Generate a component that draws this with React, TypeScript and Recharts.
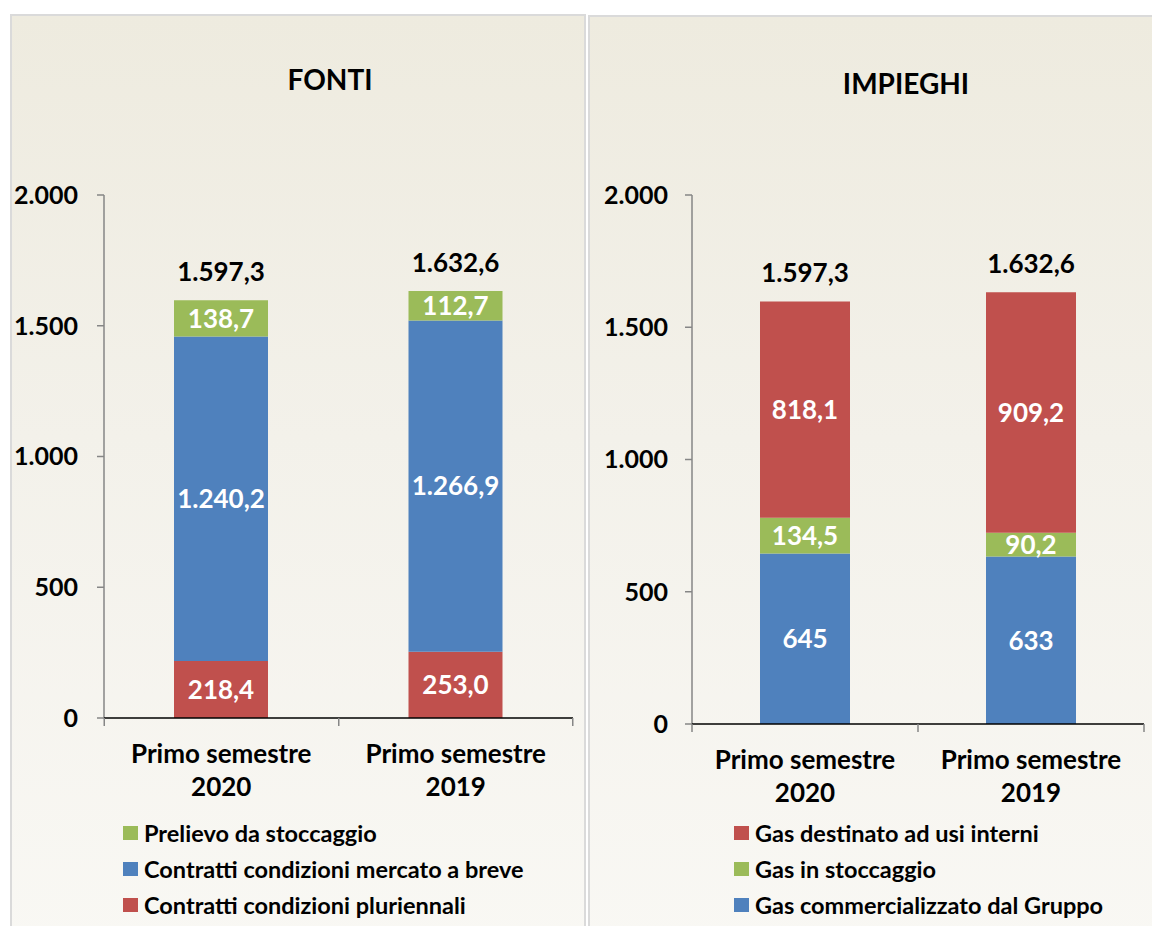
import React from 'react';
import { BarChart, Bar, XAxis, YAxis, LabelList } from 'recharts';

// Gas balance, first half 2020 vs first half 2019 (milioni di mc)
const periods = ['Primo semestre 2020', 'Primo semestre 2019'];
const yTicks = [0, 500, 1000, 1500, 2000];

// FONTI
const fontiPluriennali = [218.4, 253.0];
const fontiBreve = [1240.2, 1266.9];
const fontiStoccaggio = [138.7, 112.7];
const fontiTotali = [1597.3, 1632.6];

// IMPIEGHI
const impieghiGruppo = [645, 633];
const impieghiStoccaggio = [134.5, 90.2];
const impieghiInterni = [818.1, 909.2];
const impieghiTotali = [1597.3, 1632.6];

const RED = '#C0504D';
const BLUE = '#4F81BD';
const GREEN = '#9BBB59';
const FONT = 'Lato, "Open Sans", sans-serif';

// Italian number format: 1597.3 -> "1.597,3"
const fmtIt = (v: number, dec: number) => {
    const [int, frac] = Number(v).toFixed(dec).split('.');
    const grouped = int.replace(/\B(?=(\d{3})+(?!\d))/g, '.');
    return frac ? `${grouped},${frac}` : grouped;
};

const fontiData = periods.map((p, i) => ({
    name: p,
    pluriennali: fontiPluriennali[i],
    breve: fontiBreve[i],
    stoccaggio: fontiStoccaggio[i],
    total: fontiTotali[i],
}));

const impieghiData = periods.map((p, i) => ({
    name: p,
    gruppo: impieghiGruppo[i],
    stoccaggio: impieghiStoccaggio[i],
    interni: impieghiInterni[i],
    total: impieghiTotali[i],
}));

const fontiLegend = [
    { label: 'Prelievo da stoccaggio', color: GREEN },
    { label: 'Contratti condizioni mercato a breve', color: BLUE },
    { label: 'Contratti condizioni pluriennali', color: RED },
];

const impieghiLegend = [
    { label: 'Gas destinato ad usi interni', color: RED },
    { label: 'Gas in stoccaggio', color: GREEN },
    { label: 'Gas commercializzato dal Gruppo', color: BLUE },
];

// two-line category label plus boundary tick marks between categories
const CategoryTick = (props: any) => {
    const { x, y, payload, index, band, count, line2 } = props;
    const words = String(payload.value).split(' ');
    const year = words.pop();
    return (
        <g>
            <line x1={x - band / 2} x2={x - band / 2} y1={y} y2={y + 8} stroke="#868686" strokeWidth={1.5} />
            {index === count - 1 && (
                <line x1={x + band / 2} x2={x + band / 2} y1={y} y2={y + 8} stroke="#868686" strokeWidth={1.5} />
            )}
            <text x={x} y={y + 45} textAnchor="middle" fontFamily={FONT} fontWeight={700} fontSize={26} fill="#000">
                {words.join(' ')}
            </text>
            <text x={x} y={y + line2} textAnchor="middle" fontFamily={FONT} fontWeight={700} fontSize={26} fill="#000">
                {year}
            </text>
        </g>
    );
};

const tickStyle = { fill: '#000', fontSize: 25, fontWeight: 700, fontFamily: FONT };
const insideLabel = { fill: '#fff', fontSize: 26, fontWeight: 700, fontFamily: FONT };
const totalLabel = { fill: '#000', fontSize: 26, fontWeight: 700, fontFamily: FONT };

const Panel = ({ left, top, width }: { left: number; top: number; width: number }) => (
    <div style={{
        position: 'absolute',
        left,
        top,
        width,
        height: 940,
        boxSizing: 'border-box',
        border: '2px solid #DADADA',
        background: 'linear-gradient(180deg, #EEEBDF 0%, #F3F1EA 45%, #F9F8F4 100%)',
    }} />
);

const Legend = ({ items, left }: { items: { label: string; color: string }[]; left: number }) => (
    <div style={{ position: 'absolute', left, top: 815, fontFamily: FONT, fontWeight: 700, fontSize: 23.5 }}>
        {items.map(it => (
            <div key={it.label} style={{ display: 'flex', alignItems: 'center', height: 36, whiteSpace: 'nowrap' }}>
                <span style={{ width: 15, height: 14, background: it.color, marginRight: 6, display: 'inline-block' }} />
                <span>{it.label}</span>
            </div>
        ))}
    </div>
);

const Title = ({ text, cx, cy }: { text: string; cx: number; cy: number }) => (
    <div style={{
        position: 'absolute',
        left: cx - 150,
        top: cy - 17,
        width: 300,
        height: 34,
        lineHeight: '34px',
        textAlign: 'center',
        fontFamily: FONT,
        fontWeight: 700,
        fontSize: 28,
        color: '#000',
    }}>{text}</div>
);

export default function App() {
    return (
        <div style={{ position: 'absolute', left: 0, top: 0, width: 1152, height: 926, overflow: 'hidden', background: '#fff' }}>
            <Panel left={10} top={14} width={576} />
            <Panel left={588} top={15} width={600} />

            <Title text="FONTI" cx={330} cy={79} />
            <Title text="IMPIEGHI" cx={906} cy={83} />

            {/* FONTI */}
            <div style={{ position: 'absolute', left: 0, top: 0 }}>
                <BarChart width={590} height={926} data={fontiData} margin={{ top: 195, right: 17, bottom: 0, left: 0 }}>
                    <YAxis
                        width={104}
                        domain={[0, 2000]}
                        ticks={yTicks}
                        interval={0}
                        tick={tickStyle}
                        tickFormatter={(v: number) => fmtIt(v, 0)}
                        tickSize={7}
                        tickMargin={19}
                        axisLine={{ stroke: '#868686', strokeWidth: 1.5 }}
                        tickLine={{ stroke: '#868686', strokeWidth: 1.5 }}
                    />
                    <XAxis
                        dataKey="name"
                        height={208}
                        interval={0}
                        tickSize={0}
                        tickMargin={0}
                        tickLine={false}
                        axisLine={{ stroke: '#000', strokeWidth: 1.5 }}
                        tick={(p: any) => <CategoryTick {...p} band={234} count={periods.length} line2={78} />}
                    />
                    <Bar dataKey="pluriennali" stackId="a" fill={RED} barSize={94} isAnimationActive={false}>
                        <LabelList dataKey="pluriennali" position="center" style={insideLabel} formatter={(v: any) => fmtIt(v, 1)} />
                    </Bar>
                    <Bar dataKey="breve" stackId="a" fill={BLUE} barSize={94} isAnimationActive={false}>
                        <LabelList dataKey="breve" position="center" style={insideLabel} formatter={(v: any) => fmtIt(v, 1)} />
                    </Bar>
                    <Bar dataKey="stoccaggio" stackId="a" fill={GREEN} barSize={94} isAnimationActive={false}>
                        <LabelList dataKey="stoccaggio" position="center" style={insideLabel} formatter={(v: any) => fmtIt(v, 1)} />
                        <LabelList dataKey="total" position="top" offset={19} style={totalLabel} formatter={(v: any) => fmtIt(v, 1)} />
                    </Bar>
                </BarChart>
            </div>

            {/* IMPIEGHI */}
            <div style={{ position: 'absolute', left: 590, top: 0 }}>
                <BarChart width={562} height={926} data={impieghiData} margin={{ top: 195, right: 8, bottom: 0, left: 0 }}>
                    <YAxis
                        width={102}
                        domain={[0, 2000]}
                        ticks={yTicks}
                        interval={0}
                        tick={tickStyle}
                        tickFormatter={(v: number) => fmtIt(v, 0)}
                        tickSize={7}
                        tickMargin={17}
                        axisLine={{ stroke: '#868686', strokeWidth: 1.5 }}
                        tickLine={{ stroke: '#868686', strokeWidth: 1.5 }}
                    />
                    <XAxis
                        dataKey="name"
                        height={202}
                        interval={0}
                        tickSize={0}
                        tickMargin={0}
                        tickLine={false}
                        axisLine={{ stroke: '#000', strokeWidth: 1.5 }}
                        tick={(p: any) => <CategoryTick {...p} band={226} count={periods.length} line2={78} />}
                    />
                    <Bar dataKey="gruppo" stackId="a" fill={BLUE} barSize={90} isAnimationActive={false}>
                        <LabelList dataKey="gruppo" position="center" style={insideLabel} formatter={(v: any) => fmtIt(v, 0)} />
                    </Bar>
                    <Bar dataKey="stoccaggio" stackId="a" fill={GREEN} barSize={90} isAnimationActive={false}>
                        <LabelList dataKey="stoccaggio" position="center" style={insideLabel} formatter={(v: any) => fmtIt(v, 1)} />
                    </Bar>
                    <Bar dataKey="interni" stackId="a" fill={RED} barSize={90} isAnimationActive={false}>
                        <LabelList dataKey="interni" position="center" style={insideLabel} formatter={(v: any) => fmtIt(v, 1)} />
                        <LabelList dataKey="total" position="top" offset={19} style={totalLabel} formatter={(v: any) => fmtIt(v, 1)} />
                    </Bar>
                </BarChart>
            </div>

            <Legend items={fontiLegend} left={123} />
            <Legend items={impieghiLegend} left={734} />
        </div>
    );
}
